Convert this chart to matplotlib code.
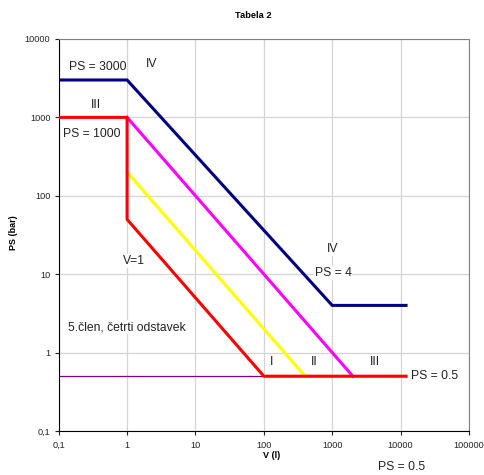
import matplotlib
matplotlib.use("Agg")
import matplotlib.pyplot as plt
from matplotlib.ticker import FixedLocator, FixedFormatter, NullLocator

plt.rcParams["font.family"] = ["Liberation Sans", "DejaVu Sans"]

# data
navy_v = [0.1, 1, 1000, 12000]
navy_ps = [3000, 3000, 4, 4]
red_v = [0.1, 1, 1, 100, 12000]
red_ps = [1000, 1000, 50, 0.5, 0.5]
magenta_v = [1, 2000]
magenta_ps = [1000, 0.5]
yellow_v = [1, 400]
yellow_ps = [200, 0.5]
purple_v = [0.1, 12000]
purple_ps = [0.5, 0.5]

x_ticks = [0.1, 1, 10, 100, 1000, 10000, 100000]
x_labels = ["0,1", "1", "10", "100", "1000", "10000", "100000"]
y_ticks = [0.1, 1, 10, 100, 1000, 10000]
y_labels = ["0,1", "1", "10", "100", "1000", "10000"]

fig = plt.figure(figsize=(4.84, 4.75), dpi=100)
ax = fig.add_axes([0.1213, 0.0926, 0.8477, 0.8253])
ax.set_xscale("log")
ax.set_yscale("log")
ax.set_xlim(0.1, 100000)
ax.set_ylim(0.1, 10000)

ax.xaxis.set_major_locator(FixedLocator(x_ticks))
ax.xaxis.set_major_formatter(FixedFormatter(x_labels))
ax.yaxis.set_major_locator(FixedLocator(y_ticks))
ax.yaxis.set_major_formatter(FixedFormatter(y_labels))
ax.xaxis.set_minor_locator(NullLocator())
ax.yaxis.set_minor_locator(NullLocator())
ax.tick_params(labelsize=6.6, length=3, width=0.8, pad=3, colors="#222222")
ax.tick_params(axis="x", pad=4)
ax.grid(True, color="#d4d4d4", linewidth=0.9)
ax.set_axisbelow(True)

for s in ["top", "right"]:
    ax.spines[s].set_color("#808080")
for s in ["left", "bottom"]:
    ax.spines[s].set_color("black")

# lines
ax.plot(purple_v, purple_ps, color="#800080", lw=0.9, zorder=2.3)
ax.plot(yellow_v, yellow_ps, color="#FFFF00", lw=2.2, zorder=3)
ax.plot(magenta_v, magenta_ps, color="#FF00FF", lw=2.2, zorder=3)
ax.plot(navy_v, navy_ps, color="#000080", lw=2.2, zorder=3)
ax.plot(red_v, red_ps, color="#FF0000", lw=2.2, zorder=4)

# annotations
box = dict(facecolor="white", edgecolor="none", pad=0.5)
fs = 8.7
def label(px, py, s, ha="center"):
    ax.text(px / 484, 1 - py / 475, s, fontsize=fs, ha=ha, va="center",
            color="#222222", bbox=box, zorder=2.2, clip_on=False,
            transform=fig.transFigure)

label(98, 67, "PS = 3000")
label(152, 64, "IV")
label(96, 105, "III")
label(92, 134, "PS = 1000")
label(134, 261, "V=1")
label(127, 327, "5.člen, četrti odstavek")
label(333, 249, "IV")
label(333, 273, "PS = 4")
label(272, 362, "I")
label(314, 362, "II")
label(375, 362, "III")
label(411, 376, "PS = 0.5", ha="left")
label(402, 467, "PS = 0.5")

fig.text(253 / 484, 1 - 15 / 475, "Tabela 2", fontsize=6.7, fontweight="bold",
         ha="center", va="center")
fig.text(272 / 484, 1 - 456 / 475, "V (l)", fontsize=6.5, fontweight="bold",
         ha="center", va="center")
fig.text(14 / 484, 1 - 233 / 475, "PS (bar)", fontsize=6.5, fontweight="bold",
         ha="center", va="center", rotation=90)

fig.savefig("out.png", dpi=100)
